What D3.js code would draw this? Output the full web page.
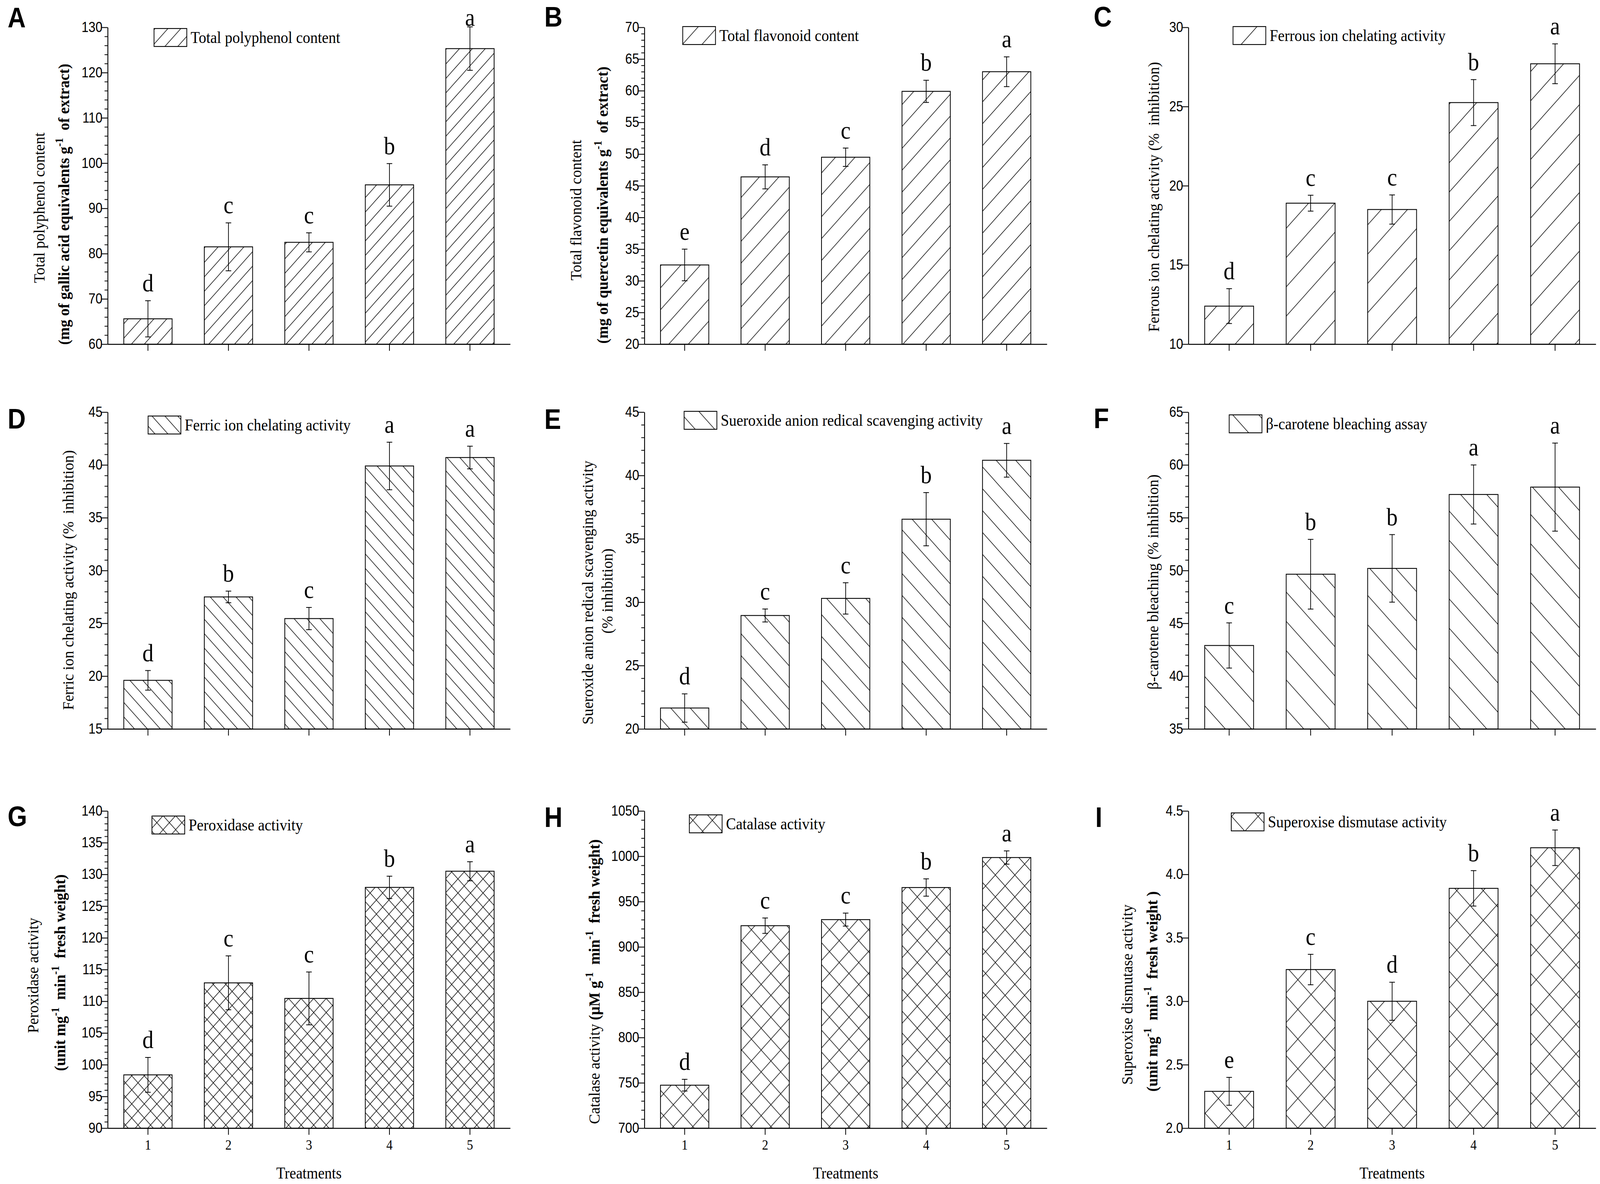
<!DOCTYPE html>
<html>
<head>
<meta charset="utf-8">
<script src="https://cdn.jsdelivr.net/npm/d3@7"></script>
<style>
  html, body { margin: 0; padding: 0; background: #fff; overflow: hidden; }
  svg { display: block; }
</style>
</head>
<body>
<div id="chart"></div>
<script>
const W = 4591, H = 3031;
const treatments = ['1', '2', '3', '4', '5'];

// values (mean, error, significance letter)
const polyphenol = [65.6, 81.5, 82.5, 95.2, 125.3];
const polyphenolErr = [4.0, 5.3, 2.1, 4.7, 4.8];
const polyphenolSig = ['d', 'c', 'c', 'b', 'a'];

const flavonoid = [32.5, 46.4, 49.5, 59.9, 63.0];
const flavonoidErr = [2.5, 1.9, 1.45, 1.75, 2.35];
const flavonoidSig = ['e', 'd', 'c', 'b', 'a'];

const ferrous = [12.4, 18.9, 18.5, 25.25, 27.7];
const ferrousErr = [1.1, 0.5, 0.92, 1.45, 1.26];
const ferrousSig = ['d', 'c', 'c', 'b', 'a'];

const ferric = [19.6, 27.5, 25.45, 39.9, 40.7];
const ferricErr = [0.93, 0.55, 1.05, 2.25, 1.07];
const ferricSig = ['d', 'b', 'c', 'a', 'a'];

const superoxide = [21.65, 28.95, 30.3, 36.55, 41.2];
const superoxideErr = [1.12, 0.51, 1.24, 2.1, 1.33];
const superoxideSig = ['d', 'c', 'c', 'b', 'a'];

const carotene = [42.9, 49.65, 50.2, 57.2, 57.9];
const caroteneErr = [2.14, 3.3, 3.2, 2.8, 4.17];
const caroteneSig = ['c', 'b', 'b', 'a', 'a'];

const peroxidase = [98.4, 112.9, 110.45, 127.95, 130.5];
const peroxidaseErr = [2.75, 4.25, 4.17, 1.76, 1.5];
const peroxidaseSig = ['d', 'c', 'c', 'b', 'a'];

const catalase = [747.4, 923.4, 930.1, 965.5, 998.6];
const catalaseErr = [6.5, 8.5, 7.2, 9.6, 7.3];
const catalaseSig = ['d', 'c', 'c', 'b', 'a'];

const sod = [2.29, 3.25, 3.0, 3.89, 4.21];
const sodErr = [0.11, 0.12, 0.15, 0.14, 0.14];
const sodSig = ['e', 'c', 'd', 'b', 'a'];

const SERIF = '"Liberation Serif", "Times New Roman", serif';
const SANS = '"Liberation Sans", Arial, sans-serif';

// fit the whole figure into whatever viewport we get
const vw = window.innerWidth || W;
const vh = window.innerHeight || H;

const svg = d3.select('#chart').append('svg')
  .attr('width', vw).attr('height', vh)
  .attr('viewBox', `0 0 ${W} ${H}`)
  .attr('preserveAspectRatio', 'none')
  .style('background', '#fff');

svg.append('rect').attr('width', W).attr('height', H).attr('fill', '#fff');

const defs = svg.append('defs');

// hatch patterns: fwd '/', back '\', cross 'x'
function hatch(id, s, kind) {
  const p = defs.append('pattern')
    .attr('id', id)
    .attr('patternUnits', 'userSpaceOnUse')
    .attr('width', s).attr('height', s);
  p.append('rect').attr('width', s).attr('height', s).attr('fill', '#fff');
  let d = '';
  if (kind === 'fwd' || kind === 'cross') {
    d += `M0,${s} L${s},0 M-2,2 L2,-2 M${s - 2},${s + 2} L${s + 2},${s - 2} `;
  }
  if (kind === 'back' || kind === 'cross') {
    d += `M0,0 L${s},${s} M${s - 2},-2 L${s + 2},2 M-2,${s - 2} L2,${s + 2}`;
  }
  p.append('path').attr('d', d).attr('stroke', '#111').attr('stroke-width', 1.6).attr('fill', 'none');
}
hatch('fwdDense', 37, 'fwd');
hatch('fwdMed', 56, 'fwd');
hatch('fwdSparse', 75, 'fwd');
hatch('backDense', 37, 'back');
hatch('backMed', 56, 'back');
hatch('backSparse', 75, 'back');
hatch('crossDense', 36, 'cross');
hatch('crossMed', 56, 'cross');
hatch('crossSparse', 76, 'cross');

const cols = [{ x0: 309, x1: 1464 }, { x0: 1849, x1: 3004 }, { x0: 3410, x1: 4579 }];
const rows = [{ top: 70, bot: 881 }, { top: 1055, bot: 1866 }, { top: 2076, bot: 2888 }];

const panels = [
  { tag: 'A', c: 0, r: 0, tagX: 22, tagY: 70, vals: polyphenol, errs: polyphenolErr, sig: polyphenolSig,
    domain: [60, 130], major: 10, minor: 2, fill: 'fwdDense',
    legend: { x: 442, y: 73, text: 'Total polyphenol content' },
    ylab: [
      { x: 128, y: 532, segs: [{ t: 'Total polyphenol content' }] },
      { x: 198, y: 523, bold: true, segs: [{ t: '(mg of gallic acid equivalents g' }, { t: '-1', sup: true }, { t: '  of extract)' }] }
    ] },
  { tag: 'B', c: 1, r: 0, tagX: 1562, tagY: 68, vals: flavonoid, errs: flavonoidErr, sig: flavonoidSig,
    domain: [20, 70], major: 5, minor: 1, fill: 'fwdMed',
    legend: { x: 1959, y: 68, text: 'Total flavonoid content' },
    ylab: [
      { x: 1668, y: 538, segs: [{ t: 'Total flavonoid content' }] },
      { x: 1744, y: 525, bold: true, segs: [{ t: '(mg of quercetin equivalents g' }, { t: '-1', sup: true }, { t: '  of extract)' }] }
    ] },
  { tag: 'C', c: 2, r: 0, tagX: 3138, tagY: 68, vals: ferrous, errs: ferrousErr, sig: ferrousSig,
    domain: [10, 30], major: 5, minor: null, fill: 'fwdSparse',
    legend: { x: 3538, y: 68, text: 'Ferrous ion chelating activity' },
    ylab: [
      { x: 3326, y: 504, segs: [{ t: 'Ferrous ion chelating activity (%\u00a0\u00a0inhibition)' }] }
    ] },
  { tag: 'D', c: 0, r: 1, tagX: 22, tagY: 1097, vals: ferric, errs: ferricErr, sig: ferricSig,
    domain: [15, 45], major: 5, minor: 1, fill: 'backDense',
    legend: { x: 425, y: 1065, text: 'Ferric ion chelating activity' },
    ylab: [
      { x: 211, y: 1485, segs: [{ t: 'Ferric ion chelating activity (%\u00a0\u00a0inhibition)' }] }
    ] },
  { tag: 'E', c: 1, r: 1, tagX: 1562, tagY: 1098, vals: superoxide, errs: superoxideErr, sig: superoxideSig,
    domain: [20, 45], major: 5, minor: 1, fill: 'backMed',
    legend: { x: 1963, y: 1053, text: 'Sueroxide anion redical scavenging activity' },
    ylab: [
      { x: 1702, y: 1517, segs: [{ t: 'Sueroxide anion redical scavenging activity' }] },
      { x: 1758, y: 1513, segs: [{ t: '(% inhibition)' }] }
    ] },
  { tag: 'F', c: 2, r: 1, tagX: 3138, tagY: 1096, vals: carotene, errs: caroteneErr, sig: caroteneSig,
    domain: [35, 65], major: 5, minor: 1, fill: 'backSparse',
    legend: { x: 3527, y: 1062, text: '\u03b2-carotene bleaching assay' },
    ylab: [
      { x: 3323, y: 1490, segs: [{ t: '\u03b2-carotene bleaching (% inhibition)' }] }
    ] },
  { tag: 'G', c: 0, r: 2, tagX: 22, tagY: 2115, vals: peroxidase, errs: peroxidaseErr, sig: peroxidaseSig,
    domain: [90, 140], major: 5, minor: 1, fill: 'crossDense',
    legend: { x: 436, y: 2089, text: 'Peroxidase activity' },
    ylab: [
      { x: 110, y: 2497, segs: [{ t: 'Peroxidase activity' }] },
      { x: 187, y: 2490, bold: true, segs: [{ t: '(unit mg' }, { t: '-1', sup: true }, { t: '  min' }, { t: '-1', sup: true }, { t: '  fresh weight)' }] }
    ] },
  { tag: 'H', c: 1, r: 2, tagX: 1562, tagY: 2117, vals: catalase, errs: catalaseErr, sig: catalaseSig,
    domain: [700, 1050], major: 50, minor: 10, fill: 'crossMed',
    legend: { x: 1978, y: 2086, text: 'Catalase activity' },
    ylab: [
      { x: 1720, y: 2513, segs: [{ t: 'Catalase activity ' }, { t: '(\u03bcM g', b: true }, { t: '-1', sup: true, b: true }, { t: '  min', b: true }, { t: '-1', sup: true, b: true }, { t: '  fresh weight)', b: true }] }
    ] },
  { tag: 'I', c: 2, r: 2, tagX: 3143, tagY: 2117, vals: sod, errs: sodErr, sig: sodSig,
    domain: [2.0, 4.5], major: 0.5, minor: null, fill: 'crossSparse', fmt: '.1f',
    legend: { x: 3533, y: 2081, text: 'Superoxise dismutase activity' },
    ylab: [
      { x: 3249, y: 2546, segs: [{ t: 'Superoxise dismutase activity' }] },
      { x: 3321, y: 2538, bold: true, segs: [{ t: '(unit mg' }, { t: '-1', sup: true }, { t: '  min' }, { t: '-1', sup: true }, { t: '  fresh weight )' }] }
    ] }
];

panels.forEach(p => {
  const col = cols[p.c], row = rows[p.r];
  const g = svg.append('g').attr('class', 'panel-' + p.tag);

  const x = d3.scaleBand().domain(treatments).range([col.x0, col.x1])
    .paddingInner(0.4).paddingOuter(0.2);
  const y = d3.scaleLinear().domain(p.domain).range([row.bot, row.top]);

  const data = treatments.map((t, i) => ({ t, v: p.vals[i], e: p.errs[i], s: p.sig[i] }));

  // Bars
  g.append('g').selectAll('rect')
    .data(data).join('rect')
    .attr('x', d => x(d.t))
    .attr('y', d => y(d.v))
    .attr('width', x.bandwidth())
    .attr('height', d => y(p.domain[0]) - y(d.v))
    .attr('fill', `url(#${p.fill})`)
    .attr('stroke', '#000')
    .attr('stroke-width', 2.2);

  // Error bars
  const eb = g.append('g').attr('stroke', '#000').attr('stroke-width', 2).attr('fill', 'none');
  const cx = d => x(d.t) + x.bandwidth() / 2;
  eb.selectAll('path')
    .data(data).join('path')
    .attr('d', d => {
      const hi = y(d.v + d.e), lo = y(d.v - d.e), c = cx(d);
      return `M${c},${hi} L${c},${lo} M${c - 8},${hi} L${c + 8},${hi} M${c - 8},${lo} L${c + 8},${lo}`;
    });

  // Significance letters
  g.append('g').selectAll('text')
    .data(data).join('text')
    .attr('x', cx)
    .attr('y', d => Math.max(y(d.v + d.e) - 24, 66))
    .attr('text-anchor', 'middle')
    .attr('font-family', SERIF)
    .attr('font-size', 64)
    .text(d => d.s);

  // Y axis: majors
  const majors = d3.range(p.domain[0], p.domain[1] + p.major / 2, p.major);
  const yAxis = g.append('g')
    .attr('transform', `translate(${col.x0},0)`)
    .call(d3.axisLeft(y).tickValues(majors).tickSize(17).tickSizeOuter(0).tickPadding(-2)
      .tickFormat(d3.format(p.fmt || 'd')));
  yAxis.select('.domain').attr('stroke-width', 2.5);
  yAxis.selectAll('.tick line').attr('stroke-width', 2.2);
  yAxis.selectAll('.tick text').attr('font-family', SANS).attr('font-size', 36).attr('fill', '#000');

  if (p.minor) {
    const minors = d3.range(p.domain[0], p.domain[1] + p.minor / 2, p.minor)
      .filter(v => Math.abs(((v - p.domain[0]) / p.major) - Math.round((v - p.domain[0]) / p.major)) > 1e-6);
    const mAxis = g.append('g')
      .attr('transform', `translate(${col.x0},0)`)
      .call(d3.axisLeft(y).tickValues(minors).tickSize(9).tickSizeOuter(0).tickFormat(''));
    mAxis.select('.domain').remove();
    mAxis.selectAll('.tick line').attr('stroke-width', 2);
  }

  // X axis
  const showX = p.r === 2;
  const xAxis = g.append('g')
    .attr('transform', `translate(0,${row.bot})`)
    .call(d3.axisBottom(x).tickSize(17).tickSizeOuter(0).tickPadding(12)
      .tickFormat(showX ? (d => d) : ''));
  xAxis.select('.domain').attr('stroke-width', 2.5);
  xAxis.selectAll('.tick line').attr('stroke-width', 2.2);
  xAxis.selectAll('.tick text').attr('font-family', SERIF).attr('font-size', 36).attr('fill', '#000');

  if (showX) {
    g.append('text')
      .attr('x', x('3') + x.bandwidth() / 2)
      .attr('y', row.bot + 129)
      .attr('text-anchor', 'middle')
      .attr('font-family', SERIF)
      .attr('font-size', 42)
      .text('Treatments');
  }

  // Legend
  g.append('rect')
    .attr('x', p.legend.x).attr('y', p.legend.y)
    .attr('width', 94).attr('height', 46)
    .attr('fill', `url(#${p.fill})`)
    .attr('stroke', '#000').attr('stroke-width', 2.2);
  g.append('text')
    .attr('x', p.legend.x + 105)
    .attr('y', p.legend.y + 23 + 14)
    .attr('font-family', SERIF)
    .attr('font-size', 43)
    .text(p.legend.text);

  // Y axis title (rotated, slightly condensed along the text)
  p.ylab.forEach(l => {
    const t = g.append('text')
      .attr('transform', `translate(${l.x},${l.y}) rotate(-90) scale(0.84,1)`)
      .attr('text-anchor', 'middle')
      .attr('font-family', SERIF)
      .attr('font-size', 46)
      .attr('font-weight', l.bold ? 'bold' : 'normal')
      .attr('xml:space', 'preserve')
      .style('white-space', 'pre');
    let raised = false;
    l.segs.forEach(s => {
      const ts = t.append('tspan').text(s.t);
      if (s.b) ts.attr('font-weight', 'bold');
      if (s.sup) {
        ts.attr('font-size', 32).attr('dy', -18);
        raised = true;
      } else if (raised) {
        ts.attr('dy', 18);
        raised = false;
      }
    });
  });

  // Panel tag
  g.append('text')
    .attr('x', p.tagX).attr('y', p.tagY)
    .attr('font-family', SANS)
    .attr('font-weight', 'bold')
    .attr('font-size', 72)
    .text(p.tag);
});
</script>
</body>
</html>
